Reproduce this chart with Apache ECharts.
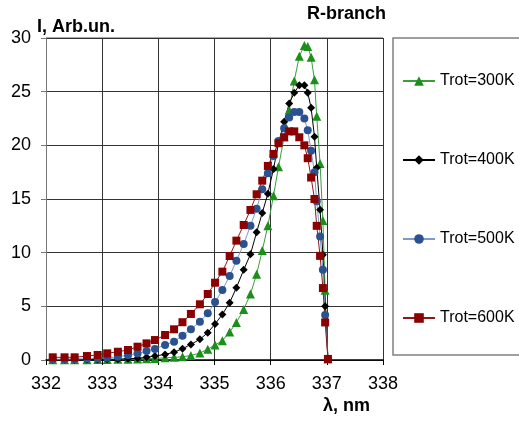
<!DOCTYPE html>
<html>
<head>
<meta charset="utf-8">
<script src="https://cdn.jsdelivr.net/npm/echarts@6/dist/echarts.min.js"></script>
<style>
html, body { margin: 0; padding: 0; background: #fff; }
#chart { width: 519px; height: 421px; }
</style>
</head>
<body>
<div id="chart"></div>
<script>
// wavelengths of the R-branch lines (nm), shared by all curves
const wavelength = [
	332.12, 332.33, 332.51, 332.73, 332.92, 333.09, 333.28, 333.46, 333.63, 333.79,
	333.94, 334.12, 334.28, 334.43, 334.58, 334.74, 334.88, 335.01, 335.14, 335.27,
	335.39, 335.52, 335.64, 335.75, 335.85, 335.95, 336.05, 336.14, 336.24, 336.33,
	336.42, 336.51, 336.60, 336.66, 336.72, 336.78, 336.82, 336.88, 336.93, 336.97,
	337.02
]
const t300 = [
	0.02, 0.02, 0.03, 0.03, 0.04, 0.05, 0.06, 0.08, 0.1, 0.12,
	0.15, 0.2, 0.25, 0.3, 0.42, 0.65, 1.0, 1.4, 1.8, 2.6,
	3.5, 4.7, 6.15, 8.0, 10.2, 12.5, 15.3, 18.0, 20.8, 23.3,
	26.0, 28.3, 29.3, 29.2, 28.2, 26.1, 22.7, 18.3, 13.0, 6.5,
	0.1
]
const t400 = [
	0.02, 0.02, 0.03, 0.04, 0.05, 0.06, 0.07, 0.12, 0.16, 0.25,
	0.37, 0.52, 0.72, 1.05, 1.45, 1.93, 2.55, 3.35, 4.25, 5.34,
	6.74, 8.4, 9.85, 11.9, 13.7, 15.5, 17.8, 20.2, 22.2, 23.9,
	24.9, 25.6, 25.6, 24.9, 23.5, 20.8, 17.9, 14.0, 9.8, 5.0,
	0.1
]
const t500 = [
	0.08, 0.08, 0.1, 0.12, 0.15, 0.2, 0.3, 0.45, 0.6, 0.84,
	1.03, 1.4, 1.71, 2.27, 2.86, 3.57, 4.35, 5.4, 6.52, 7.83,
	9.25, 10.8, 12.5, 14.1, 15.9, 17.4, 19.0, 20.4, 21.6, 22.6,
	23.1, 23.1, 22.5, 21.4, 19.5, 17.5, 14.8, 11.5, 8.4, 4.2,
	0.1
]
const t600 = [
	0.25, 0.25, 0.25, 0.37, 0.47, 0.62, 0.77, 0.93, 1.24, 1.55,
	1.86, 2.33, 2.86, 3.52, 4.29, 5.19, 6.15, 7.2, 8.23, 9.69,
	11.12, 12.58, 13.98, 15.44, 16.71, 18.08, 19.2, 20.2, 20.75, 21.3,
	21.3, 20.75, 20.0, 18.8, 17.0, 15.0, 12.5, 9.7, 6.7, 3.5,
	0.1
]
const seriesNames = ['Trot=300K', 'Trot=400K', 'Trot=500K', 'Trot=600K']
const xTicks = [332, 338, 1]
const yTicks = [0, 30, 5]

const pairs = vals => wavelength.map((w, i) => [w, vals[i]])

const mkSeries = (name, vals, symbol, size, lineColor, markColor) => ({
	type: 'line',
	name: name,
	data: pairs(vals),
	symbol: symbol,
	symbolSize: size,
	showAllSymbol: true,
	lineStyle: { color: lineColor, width: 1 },
	itemStyle: { color: markColor },
	emphasis: { disabled: true },
	animation: false
})

const font = '"Liberation Sans", Arial, sans-serif'

echarts.init(document.getElementById('chart')).setOption({
	animation: false,
	grid: {
		left: 46,
		top: 38,
		width: 337,
		height: 322
	},
	legend: {
		orient: 'vertical',
		left: 397,
		top: 68,
		itemGap: 63,
		itemWidth: 32,
		itemHeight: 12,
		textStyle: { fontSize: 16, fontFamily: font, color: '#000', lineHeight: 16 },
		data: seriesNames
	},
	xAxis: {
		type: 'value',
		min: xTicks[0],
		max: xTicks[1],
		interval: xTicks[2],
		axisLine: { show: true, onZero: false, lineStyle: { color: '#000', width: 1.5 } },
		axisTick: { show: true, length: 5, lineStyle: { color: '#000' } },
		axisLabel: { fontSize: 18, fontFamily: font, color: '#000', margin: 15 },
		splitLine: { show: true, lineStyle: { color: '#333', width: 1 } }
	},
	yAxis: {
		type: 'value',
		min: yTicks[0],
		max: yTicks[1],
		interval: yTicks[2],
		axisLine: { show: true, lineStyle: { color: '#777', width: 1 } },
		axisTick: { show: true, length: 5, lineStyle: { color: '#777' } },
		axisLabel: { fontSize: 18, fontFamily: font, color: '#000', margin: 15 },
		splitLine: { show: true, lineStyle: { color: '#333', width: 1 } }
	},
	graphic: [
		{ type: 'line', shape: { x1: 46, y1: 38, x2: 383, y2: 38 }, style: { stroke: '#aaa', lineWidth: 2 } },
		{ type: 'rect', shape: { x: 393, y: 38, width: 140, height: 317 }, style: { fill: 'none', stroke: '#808080', lineWidth: 1.5 } },
		{ type: 'text', left: 37, top: 18, style: { text: 'I, Arb.un.', font: 'bold 18px ' + font, fill: '#000' } },
		{ type: 'text', left: 307, top: 5, style: { text: 'R-branch', font: 'bold 18px ' + font, fill: '#000' } },
		{ type: 'text', left: 323, top: 397, style: { text: 'λ, nm', font: 'bold 18px ' + font, fill: '#000' } }
	],
	series: [
		mkSeries(seriesNames[0], t300, 'triangle', 9, '#3a9e3a', '#1a8f1a'),
		mkSeries(seriesNames[1], t400, 'diamond', 8, '#000', '#000'),
		mkSeries(seriesNames[2], t500, 'circle', 8, '#7b9bc8', '#2a5190'),
		mkSeries(seriesNames[3], t600, 'rect', 8, '#8b1a1a', '#8b0000')
	]
})
</script>
</body>
</html>
